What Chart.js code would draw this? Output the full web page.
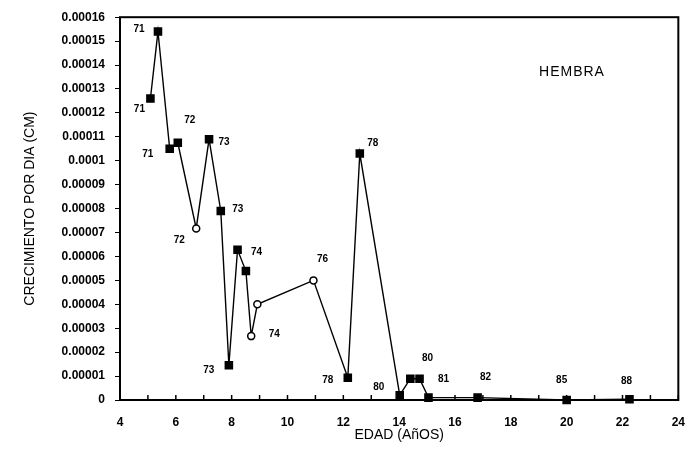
<!DOCTYPE html>
<html>
<head>
<meta charset="utf-8">
<script src="https://cdn.jsdelivr.net/npm/chart.js@4.4.1/dist/chart.umd.min.js"></script>
<style>
  html, body { margin: 0; padding: 0; background: #fff; }
  #grafico { display: block; }
</style>
</head>
<body>
<canvas id="grafico" width="692" height="453"></canvas>
<script>
// edad de cada hembra (años) y crecimiento medido (cm por dia)
const edad = [5.09, 5.36, 5.78, 6.07, 6.73, 7.19, 7.61, 7.90, 8.21, 8.51, 8.70, 8.92,
              10.93, 12.16, 12.59, 14.02, 14.40, 14.73, 15.05, 16.81, 20.0, 22.25];
const crecimiento = [0.000126, 0.000154, 0.000105, 0.0001075, 0.0000717, 0.000109, 0.000079,
                     0.0000145, 0.0000628, 0.0000539, 0.0000267, 0.00004, 0.00005, 0.0000093,
                     0.000103, 0.000002, 0.0000089, 0.0000089, 0.000001, 0.000001, 0, 0.0000003];
// año de la medicion escrito junto a cada punto ('' = sin etiqueta)
const anio = ['71', '71', '71', '72', '72', '73', '73', '73', '74', '', '74', '',
              '76', '78', '78', '80', '', '80', '81', '82', '85', '88'];

const etiquetasX = [4, 6, 8, 10, 12, 14, 16, 18, 20, 22, 24];
const etiquetasY = ['0', '0.00001', '0.00002', '0.00003', '0.00004', '0.00005', '0.00006',
                    '0.00007', '0.00008', '0.00009', '0.0001', '0.00011', '0.00012', '0.00013',
                    '0.00014', '0.00015', '0.00016'];

const fuente = '"Liberation Sans", Arial, sans-serif';

// indices de los puntos dibujados huecos (circulo blanco)
const huecos = [4, 10, 11, 12];

// desplazamiento en px de cada etiqueta respecto a su punto
const desplaz = [[-11, 11], [-19, -2], [-22, 5], [12, -23], [-17, 12], [15, 3], [17, -2], [-20, 5],
                 [19, 2], [0, 0], [23, -2], [0, 0], [9, -21], [-20, 3], [13, -10], [-21, -8],
                 [0, 0], [8, -20], [15, -18], [8, -20], [-5, -20], [-3, -18]];

const puntos = edad.map((x, i) => ({ x: x, y: crecimiento[i] }));

const pluginMarco = {
    id: 'marco',
    afterDraw(chart) {
        const ctx = chart.ctx;
        const a = chart.chartArea;
        ctx.save();
        ctx.strokeStyle = '#000';
        ctx.lineWidth = 2;
        ctx.strokeRect(a.left, a.top, a.right - a.left, a.bottom - a.top);

        // marcas del eje x hacia dentro
        const sx = chart.scales.x;
        ctx.lineWidth = 1.5;
        sx.ticks.forEach(t => {
            const px = sx.getPixelForValue(t.value);
            ctx.beginPath();
            ctx.moveTo(px, a.bottom);
            ctx.lineTo(px, a.bottom - 5);
            ctx.stroke();
        });

        // etiquetas de año
        const meta = chart.getDatasetMeta(0);
        ctx.fillStyle = '#000';
        ctx.font = 'bold 10px ' + fuente;
        ctx.textAlign = 'center';
        ctx.textBaseline = 'middle';
        meta.data.forEach((p, i) => {
            if (!anio[i]) return;
            ctx.fillText(anio[i], p.x + desplaz[i][0], p.y + desplaz[i][1]);
        });

        // rotulo
        ctx.font = '14px ' + fuente;
        ctx.letterSpacing = '1px';
        ctx.fillText('HEMBRA', a.left + 452, a.top + 55);
        ctx.restore();
    }
};

new Chart(document.getElementById('grafico'), {
    type: 'line',
    data: {
        datasets: [{
            data: puntos,
            borderColor: '#000',
            borderWidth: 1.4,
            tension: 0,
            clip: false,
            pointStyle: ctx => huecos.includes(ctx.dataIndex) ? 'circle' : 'rect',
            pointRadius: ctx => huecos.includes(ctx.dataIndex) ? 3.5 : 5,
            pointBackgroundColor: ctx => huecos.includes(ctx.dataIndex) ? '#fff' : '#000',
            pointBorderColor: '#000',
            pointBorderWidth: 1.5
        }]
    },
    options: {
        responsive: false,
        animation: false,
        layout: { padding: { top: 17, right: 13, left: 0, bottom: 0 } },
        plugins: {
            legend: { display: false },
            tooltip: { enabled: false }
        },
        scales: {
            x: {
                type: 'linear',
                min: 4,
                max: 24,
                afterFit: s => { s.height = 53; },
                afterBuildTicks: s => { s.ticks = []; for (let v = 4; v <= 24; v++) s.ticks.push({ value: v }); },
                grid: { display: false },
                border: { display: false },
                ticks: {
                    autoSkip: false,
                    maxRotation: 0,
                    padding: 7,
                    color: '#000',
                    font: { family: fuente, size: 12, weight: 'bold' },
                    callback: v => etiquetasX.includes(v) ? String(v) : ''
                },
                title: {
                    display: true,
                    text: 'EDAD (AñOS)',
                    color: '#000',
                    font: { family: fuente, size: 14 },
                    padding: { top: 0, bottom: 9 }
                }
            },
            y: {
                min: 0,
                max: 0.00016,
                afterFit: s => { s.width = 120; },
                grid: {
                    drawOnChartArea: false,
                    drawTicks: true,
                    tickLength: 5,
                    color: '#000',
                    lineWidth: 1
                },
                border: { display: false },
                ticks: {
                    stepSize: 0.00001,
                    padding: 10,
                    color: '#000',
                    font: { family: fuente, size: 12, weight: 'bold' },
                    callback: v => etiquetasY[Math.round(v / 0.00001)]
                },
                title: {
                    display: true,
                    text: 'CRECIMIENTO POR DIA (CM)',
                    color: '#000',
                    font: { family: fuente, size: 14 },
                    padding: { top: 22, bottom: 0 }
                }
            }
        }
    },
    plugins: [pluginMarco]
});
</script>
</body>
</html>
